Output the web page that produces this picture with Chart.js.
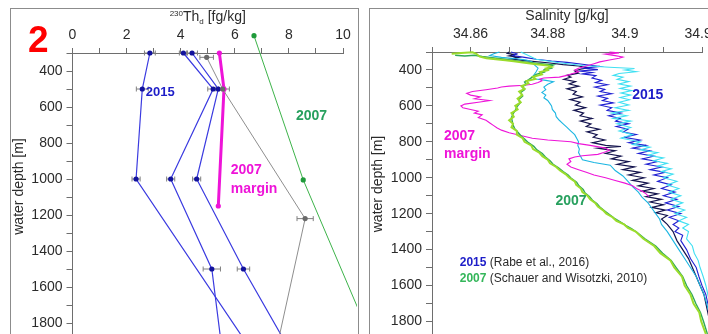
<!DOCTYPE html>
<html>
<head>
<meta charset="utf-8">
<script src="https://cdn.jsdelivr.net/npm/chart.js@4.4.0/dist/chart.umd.min.js"></script>
<style>
  html, body { margin: 0; padding: 0; background: #fff; }
  #wrap { position: relative; width: 708px; height: 334px; overflow: hidden; background: #fff; }
  .frame { position: absolute; border: 1px solid #8c8c8c; box-sizing: border-box; }
  canvas { position: absolute; top: 0; }
</style>
</head>
<body>
<div id="wrap">
  <div class="frame" style="left:10px;top:8px;width:349px;height:360px;"></div>
  <div class="frame" style="left:369px;top:8px;width:360px;height:360px;"></div>
  <canvas id="th" width="362" height="334" style="left:0"></canvas>
  <canvas id="sal" width="346" height="334" style="left:362px"></canvas>
</div>
<script>
const FONT = '"Liberation Sans", Arial, Helvetica, sans-serif';

// ---------- 230Th_d profiles: depth [m], concentration [fg/kg], error [fg/kg] ----------
const thDepthA = [300, 500, 1000, 2000];
const thA      = [2.86, 2.58, 2.35, 6.83];
const thErrA   = [0.2, 0.22, 0.15, 0];

const thDepthB = [300, 500, 1000, 1500, 2000];
const thB      = [4.10, 5.20, 3.63, 5.15, 5.57];
const thErrB   = [0.15, 0.2, 0.15, 0.32, 0];

const thDepthC = [300, 500, 1000, 1500, 2000];
const thC      = [4.42, 5.39, 4.59, 6.32, 8.22];
const thErrC   = [0.2, 0.25, 0.15, 0.23, 0];

const thDepthMargin = [300, 500, 1150];
const thMargin      = [5.43, 5.60, 5.39];

const thDepthGrey = [324, 500, 1220, 2000];
const thGrey      = [4.96, 5.55, 8.60, 7.46];
const thErrGrey   = [0.25, 0.25, 0.3, 0];

const thDepth2007 = [204, 1005, 2000];
const th2007      = [6.71, 8.53, 11.35];

// ---------- Salinity profiles: [depth m, salinity g/kg] ----------
const sal2007Light = [[310,34.8551],[306,34.8575],[302,34.8605],[310,34.8615],[326,34.8624],[335,34.8641],[340,34.8665],[346,34.8690],[352,34.8712],[360,34.8740],[368,34.8770],[375,34.8800],[383,34.8810],[392,34.8795],[402,34.8800],[412,34.8780],[425,34.8785],[438,34.8762],[450,34.8768],[462,34.8745],[475,34.8750],[490,34.8732],[505,34.8740],[520,34.8726],[540,34.8734],[560,34.8722],[580,34.8730],[600,34.8716],[620,34.8722],[640,34.8706],[660,34.8712],[680,34.8700],[700,34.8710],[720,34.8706],[740,34.8720],[760,34.8720],[780,34.8735],[800,34.8740],[820,34.8757],[840,34.8762],[860,34.8778],[880,34.8786],[900,34.8800],[920,34.8806],[940,34.8822],[960,34.8832],[980,34.8846],[1000,34.8856],[1020,34.8870],[1040,34.8874],[1060,34.8886],[1080,34.8890],[1100,34.8903],[1120,34.8910],[1140,34.8923],[1160,34.8930],[1180,34.8943],[1200,34.8952],[1220,34.8968],[1240,34.8978],[1260,34.8998],[1280,34.9008],[1300,34.9028],[1340,34.9048],[1380,34.9076],[1420,34.9092],[1460,34.9118],[1500,34.9128],[1550,34.9148],[1600,34.9155],[1650,34.9170],[1700,34.9178],[1750,34.9193],[1800,34.9198],[1870,34.9210]];

const sal2007 = [[318,34.8560],[322,34.8585],[318,34.8610],[325,34.8630],[330,34.8650],[336,34.8672],[342,34.8695],[348,34.8715],[355,34.8740],[362,34.8770],[368,34.8795],[372,34.8815],[380,34.8805],[390,34.8810],[400,34.8790],[411,34.8792],[425,34.8770],[440,34.8760],[455,34.8750],[467,34.8740],[480,34.8744],[495,34.8734],[510,34.8740],[525,34.8730],[545,34.8735],[565,34.8725],[585,34.8728],[605,34.8720],[625,34.8716],[645,34.8710],[665,34.8706],[685,34.8708],[705,34.8710],[725,34.8714],[745,34.8722],[765,34.8730],[785,34.8740],[805,34.8750],[825,34.8764],[845,34.8772],[865,34.8786],[885,34.8794],[905,34.8806],[925,34.8814],[945,34.8828],[965,34.8840],[985,34.8853],[1005,34.8862],[1025,34.8875],[1045,34.8881],[1065,34.8892],[1085,34.8897],[1105,34.8908],[1125,34.8916],[1145,34.8928],[1165,34.8936],[1185,34.8948],[1205,34.8960],[1225,34.8972],[1245,34.8988],[1265,34.9002],[1285,34.9018],[1305,34.9032],[1340,34.9052],[1380,34.9080],[1420,34.9098],[1460,34.9120],[1500,34.9133],[1550,34.9150],[1600,34.9160],[1650,34.9174],[1700,34.9184],[1750,34.9196],[1800,34.9204],[1870,34.9214]];

const sal2007Margin = [[300,34.8960],[305,34.8985],[312,34.8950],[320,34.8975],[328,34.8995],[335,34.8985],[345,34.8960],[355,34.8935],[365,34.8920],[378,34.8900],[390,34.8880],[400,34.8870],[410,34.8880],[420,34.8865],[430,34.8850],[440,34.8830],[445,34.8790],[450,34.8780],[460,34.8785],[470,34.8775],[480,34.8760],[485,34.8740],[490,34.8700],[495,34.8680],[500,34.8670],[510,34.8640],[520,34.8605],[530,34.8590],[540,34.8600],[550,34.8625],[560,34.8610],[570,34.8650],[580,34.8620],[590,34.8585],[600,34.8575],[610,34.8580],[620,34.8600],[630,34.8620],[640,34.8610],[650,34.8630],[665,34.8620],[680,34.8640],[695,34.8650],[710,34.8660],[722,34.8668],[735,34.8680],[750,34.8700],[765,34.8730],[780,34.8760],[790,34.8800],[800,34.8860],[810,34.8880],[820,34.8910],[835,34.8950],[848,34.8960],[860,34.8945],[870,34.8930],[878,34.8890],[885,34.8870],[895,34.8855],[910,34.8860],[925,34.8850],[940,34.8860],[955,34.8880],[970,34.8900],[985,34.8920],[1000,34.8950],[1015,34.8975],[1030,34.9000],[1045,34.9020],[1060,34.9030],[1075,34.9045],[1090,34.9055],[1105,34.9062]];

const sal2015CyanWest = [[300,34.8675],[310,34.8660],[320,34.8650],[330,34.8680],[338,34.8720],[345,34.8745],[355,34.8760],[370,34.8765],[390,34.8775],[410,34.8770],[425,34.8765],[440,34.8760],[450,34.8770],[458,34.8795],[465,34.8815],[480,34.8800],[495,34.8790],[510,34.8795],[525,34.8785],[540,34.8795],[555,34.8790],[570,34.8800],[585,34.8805],[600,34.8810],[620,34.8812],[640,34.8820],[660,34.8822],[680,34.8830],[700,34.8840],[720,34.8850],[740,34.8860],[760,34.8870],[780,34.8875],[800,34.8880],[820,34.8878],[840,34.8882],[860,34.8880],[880,34.8885],[900,34.8890],[915,34.8920],[930,34.8962],[960,34.8975],[990,34.8995],[1020,34.9008],[1050,34.9020],[1080,34.9035],[1110,34.9045],[1140,34.9060],[1170,34.9070],[1200,34.9080],[1230,34.9090],[1260,34.9095],[1300,34.9110],[1350,34.9125],[1400,34.9140],[1450,34.9155],[1500,34.9170],[1550,34.9185],[1600,34.9195],[1650,34.9205],[1700,34.9212],[1750,34.9218],[1800,34.9223],[1870,34.9228]];

const sal2015CyanEast = [[300,34.8730],[320,34.8750],[340,34.8770],[360,34.8830],[375,34.8890],[385,34.8960],[392,34.9025],[400,34.9000],[410,34.9030],[420,34.8985],[430,34.8970],[440,34.8995],[452,34.8980],[465,34.9010],[478,34.8985],[490,34.9015],[503,34.8988],[515,34.9018],[528,34.8990],[540,34.9015],[553,34.8988],[566,34.9012],[580,34.8985],[595,34.9010],[610,34.8975],[625,34.9010],[640,34.8965],[655,34.9005],[670,34.8970],[685,34.9015],[700,34.8980],[720,34.9015],[740,34.8985],[760,34.9020],[780,34.8990],[800,34.9040],[815,34.9020],[830,34.9065],[845,34.9040],[860,34.9085],[875,34.9060],[890,34.9100],[905,34.9075],[920,34.9110],[935,34.9085],[950,34.9120],[965,34.9095],[980,34.9125],[1000,34.9100],[1020,34.9135],[1040,34.9110],[1060,34.9140],[1080,34.9115],[1100,34.9145],[1120,34.9120],[1140,34.9150],[1160,34.9125],[1180,34.9155],[1200,34.9130],[1220,34.9160],[1240,34.9140],[1260,34.9165],[1280,34.9150],[1300,34.9165],[1340,34.9160],[1380,34.9175],[1420,34.9180],[1460,34.9190],[1500,34.9195],[1550,34.9203],[1600,34.9210],[1650,34.9215],[1700,34.9220],[1750,34.9225],[1800,34.9230],[1870,34.9235]];

const sal2015Blue = [[300,34.8705],[310,34.8720],[320,34.8710],[330,34.8740],[340,34.8770],[350,34.8810],[358,34.8850],[365,34.8880],[372,34.8905],[380,34.8935],[390,34.8895],[398,34.8930],[406,34.8880],[414,34.8915],[422,34.8890],[432,34.8925],[445,34.8915],[458,34.8940],[470,34.8924],[482,34.8955],[495,34.8922],[508,34.8948],[520,34.8936],[532,34.8966],[545,34.8930],[558,34.8955],[570,34.8942],[583,34.8970],[596,34.8936],[610,34.8966],[625,34.8954],[640,34.8990],[655,34.8958],[670,34.8988],[685,34.8976],[700,34.9010],[715,34.8978],[730,34.9008],[745,34.8996],[760,34.9030],[775,34.8998],[790,34.9040],[805,34.9010],[820,34.9055],[835,34.9020],[850,34.9065],[865,34.9035],[880,34.9075],[895,34.9045],[910,34.9085],[925,34.9055],[940,34.9095],[955,34.9065],[970,34.9105],[985,34.9075],[1000,34.9110],[1020,34.9085],[1040,34.9120],[1060,34.9095],[1080,34.9130],[1100,34.9100],[1120,34.9135],[1140,34.9105],[1160,34.9140],[1180,34.9110],[1200,34.9145],[1220,34.9115],[1240,34.9140],[1260,34.9125],[1280,34.9140],[1300,34.9130],[1320,34.9150],[1350,34.9145],[1400,34.9160],[1450,34.9170],[1500,34.9185],[1550,34.9192],[1600,34.9200],[1650,34.9210],[1700,34.9215],[1750,34.9222],[1800,34.9228],[1870,34.9232]];

const sal2015Navy = [[300,34.8700],[308,34.8695],[315,34.8715],[322,34.8700],[330,34.8725],[338,34.8705],[345,34.8730],[352,34.8760],[360,34.8800],[370,34.8840],[378,34.8880],[388,34.8905],[396,34.8885],[405,34.8870],[418,34.8880],[430,34.8850],[440,34.8860],[452,34.8842],[465,34.8872],[478,34.8856],[490,34.8880],[505,34.8850],[520,34.8874],[535,34.8866],[550,34.8890],[565,34.8858],[580,34.8884],[595,34.8872],[610,34.8898],[625,34.8868],[640,34.8893],[655,34.8884],[670,34.8915],[685,34.8885],[700,34.8912],[715,34.8900],[730,34.8934],[745,34.8902],[760,34.8928],[775,34.8918],[790,34.8948],[805,34.8916],[820,34.8950],[826,34.8990],[836,34.8930],[850,34.8975],[865,34.8950],[880,34.8990],[895,34.8965],[910,34.9010],[925,34.8980],[940,34.9025],[955,34.8995],[970,34.9040],[985,34.9010],[1000,34.9050],[1015,34.9020],[1030,34.9060],[1045,34.9035],[1060,34.9075],[1075,34.9045],[1090,34.9085],[1105,34.9055],[1120,34.9095],[1135,34.9065],[1150,34.9100],[1165,34.9070],[1180,34.9105],[1195,34.9080],[1210,34.9110],[1230,34.9095],[1260,34.9110],[1300,34.9125],[1350,34.9135],[1400,34.9150],[1450,34.9165],[1500,34.9175],[1550,34.9185],[1600,34.9195],[1650,34.9205],[1700,34.9210],[1750,34.9215],[1800,34.9220],[1870,34.9225]];

// ---------- colours ----------
const C_BLUE_LINE = '#3b3be0', C_BLUE_PT = '#12129c', C_MAGENTA = '#ee14d8',
      C_GREY = '#8e8e8e', C_GREEN = '#3db34a', C_GREEN_TXT = '#27a05e',
      C_TEXT = '#2b2b2b', C_AXIS = '#6e6e6e';

Chart.defaults.font.family = FONT;
Chart.defaults.color = C_TEXT;

// horizontal error bars, drawn underneath the markers
const errorBars = {
  id: 'errorBars',
  beforeDatasetsDraw(chart) {
    const { ctx, scales: { x, y } } = chart;
    ctx.save();
    ctx.strokeStyle = '#808080';
    ctx.lineWidth = 1;
    chart.data.datasets.forEach(ds => {
      if (!ds.errX) return;
      ds.data.forEach((p, i) => {
        const e = ds.errX[i];
        if (!e) return;
        const yy = y.getPixelForValue(p.y);
        const x0 = x.getPixelForValue(p.x - e), x1 = x.getPixelForValue(p.x + e);
        ctx.beginPath();
        ctx.moveTo(x0, yy); ctx.lineTo(x1, yy);
        ctx.moveTo(x0, yy - 2.5); ctx.lineTo(x0, yy + 2.5);
        ctx.moveTo(x1, yy - 2.5); ctx.lineTo(x1, yy + 2.5);
        ctx.stroke();
      });
    });
    ctx.restore();
  }
};

// text placed in data coordinates, made of coloured runs
const notes = {
  id: 'notes',
  afterDatasetsDraw(chart, args, opts) {
    const { ctx, scales: { x, y } } = chart;
    ctx.save();
    ctx.textBaseline = 'middle';
    ctx.textAlign = 'left';
    (opts.items || []).forEach(it => {
      let px = x.getPixelForValue(it.x);
      const py = y.getPixelForValue(it.y);
      it.runs.forEach(r => {
        ctx.font = r.font;
        ctx.fillStyle = r.color;
        ctx.fillText(r.text, px, py);
        px += ctx.measureText(r.text).width;
      });
    });
    ctx.restore();
  }
};

// axis titles (with super/subscripts) and panel number
const titles = {
  id: 'titles',
  afterDraw(chart, args, opts) {
    const { ctx, chartArea } = chart;
    ctx.save();
    ctx.fillStyle = C_TEXT;
    ctx.textBaseline = 'alphabetic';
    const parts = opts.top;
    let total = 0;
    parts.forEach(p => { ctx.font = p.font; total += ctx.measureText(p.text).width; });
    let px = (chartArea.left + chartArea.right) / 2 - total / 2;
    parts.forEach(p => {
      ctx.font = p.font;
      ctx.fillText(p.text, px, opts.topY + (p.dy || 0));
      px += ctx.measureText(p.text).width;
    });
    ctx.save();
    ctx.translate(opts.sideX, (chartArea.top + chartArea.bottom) / 2 + opts.sideDy);
    ctx.rotate(-Math.PI / 2);
    ctx.font = '14px ' + FONT;
    ctx.textAlign = 'center';
    ctx.textBaseline = 'middle';
    ctx.fillText(opts.side, 0, 0);
    ctx.restore();
    if (opts.badge) {
      ctx.font = 'bold 37px ' + FONT;
      ctx.fillStyle = '#ff0000';
      ctx.textAlign = 'left';
      ctx.fillText(opts.badge, 28, 52);
    }
    ctx.restore();
  }
};

const pts = (vals, depths) => vals.map((v, i) => ({ x: v, y: depths[i] }));
const prof = pairs => pairs.map(p => ({ x: p[1], y: p[0] }));

function thSeries(vals, depths, color, width, ptColor, err) {
  return {
    data: pts(vals, depths), showLine: true, borderColor: color, borderWidth: width,
    pointRadius: 2.6, pointBackgroundColor: ptColor, pointBorderWidth: 0,
    errX: err, clip: { left: 2, top: 25, right: 14, bottom: 2 }
  };
}

function salSeries(pairs, color, width) {
  return {
    data: prof(pairs), showLine: true, borderColor: color, borderWidth: width,
    pointRadius: 0, tension: 0, clip: { left: 2, top: 2, right: 8, bottom: 2 }
  };
}

function axisX(min, max, step, labelFn, fitH) {
  return {
    type: 'linear', position: 'top', min, max,
    ticks: { stepSize: step, autoSkip: false, maxRotation: 0, includeBounds: false, padding: 4,
             color: C_TEXT, font: { size: 14 }, callback: labelFn },
    grid: { drawOnChartArea: false, tickLength: 5, color: C_AXIS },
    border: { color: C_AXIS },
    afterFit(s) { s.height = fitH; s.paddingLeft = 0; s.paddingRight = 0; }
  };
}

function axisY(max, fitW) {
  return {
    type: 'linear', reverse: true, min: 300, max,
    ticks: { stepSize: 100, autoSkip: false, includeBounds: false, padding: 4,
             color: C_TEXT, font: { size: 14 },
             callback: v => (v % 200 === 0 && v >= 400) ? String(v) : '' },
    grid: { drawOnChartArea: false, tickLength: 6, color: C_AXIS },
    border: { color: C_AXIS },
    afterFit(s) { s.width = fitW; s.paddingTop = 0; s.paddingBottom = 0; }
  };
}

const g2007 = thSeries(th2007, thDepth2007, C_GREEN, 1, '#1f9a3a', null);
// wide transparent rim keeps the shallow 2007 marker visible above the axis
g2007.pointBorderWidth = [20, 0, 0];
g2007.pointBorderColor = 'rgba(0,0,0,0)';

new Chart(document.getElementById('th'), {
  type: 'scatter',
  data: { datasets: [
    thSeries(thGrey, thDepthGrey, C_GREY, 1, '#6a6a6a', thErrGrey),
    g2007,
    thSeries(thA, thDepthA, C_BLUE_LINE, 1.2, C_BLUE_PT, thErrA),
    thSeries(thB, thDepthB, C_BLUE_LINE, 1.2, C_BLUE_PT, thErrB),
    thSeries(thC, thDepthC, C_BLUE_LINE, 1.2, C_BLUE_PT, thErrC),
    thSeries(thMargin, thDepthMargin, C_MAGENTA, 3, C_MAGENTA, null)
  ]},
  options: {
    responsive: false, animation: false, events: [],
    layout: { autoPadding: false, padding: { left: 10, top: 8, right: 19, bottom: 0 } },
    plugins: {
      legend: { display: false }, tooltip: { enabled: false },
      notes: { items: [
        { x: 2.71, y: 519, runs: [{ text: '2015', font: 'bold 13px ' + FONT, color: '#1d1dc8' }] },
        { x: 8.26, y: 650, runs: [{ text: '2007', font: 'bold 14px ' + FONT, color: C_GREEN_TXT }] },
        { x: 5.85, y: 950, runs: [{ text: '2007', font: 'bold 14px ' + FONT, color: C_MAGENTA }] },
        { x: 5.85, y: 1056, runs: [{ text: 'margin', font: 'bold 14px ' + FONT, color: C_MAGENTA }] }
      ]},
      titles: {
        top: [
          { text: '230', font: '8px ' + FONT, dy: -5 },
          { text: 'Th', font: '14px ' + FONT },
          { text: 'd', font: '8px ' + FONT, dy: 3 },
          { text: ' [fg/kg]', font: '14px ' + FONT }
        ],
        topY: 21, side: 'water depth [m]', sideX: 19, sideDy: -7, badge: '2'
      }
    },
    scales: {
      x: axisX(0, 10, 1, v => (v % 2 === 0) ? String(v) : '', 45),
      y: axisY(1861, 62.5)
    }
  },
  plugins: [errorBars, notes, titles]
});

new Chart(document.getElementById('sal'), {
  type: 'scatter',
  data: { datasets: [
    salSeries(sal2007Light, '#9bdc2c', 2),
    salSeries(sal2007, '#2fa85a', 1.4),
    salSeries(sal2007Margin, C_MAGENTA, 1.1),
    salSeries(sal2015CyanWest, '#1cb6e2', 1.1),
    salSeries(sal2015CyanEast, '#3fe0f2', 1.1),
    salSeries(sal2015Blue, '#2020d2', 1.1),
    salSeries(sal2015Navy, '#14144e', 1.2)
  ]},
  options: {
    responsive: false, animation: false, events: [],
    layout: { autoPadding: false, padding: { left: 7, top: 8, right: 6, bottom: 0 } },
    plugins: {
      legend: { display: false }, tooltip: { enabled: false },
      notes: { items: [
        { x: 34.9019, y: 539, runs: [{ text: '2015', font: 'bold 14px ' + FONT, color: '#1d1dc8' }] },
        { x: 34.8531, y: 768, runs: [{ text: '2007', font: 'bold 14px ' + FONT, color: C_MAGENTA }] },
        { x: 34.8531, y: 871, runs: [{ text: 'margin', font: 'bold 14px ' + FONT, color: C_MAGENTA }] },
        { x: 34.8820, y: 1130, runs: [{ text: '2007', font: 'bold 14px ' + FONT, color: C_GREEN_TXT }] },
        { x: 34.8572, y: 1475, runs: [
          { text: '2015', font: 'bold 12px ' + FONT, color: '#1d1dc8' },
          { text: ' (Rabe et al., 2016)', font: '12px ' + FONT, color: C_TEXT } ] },
        { x: 34.8572, y: 1564, runs: [
          { text: '2007', font: 'bold 12px ' + FONT, color: '#34b65a' },
          { text: ' (Schauer and Wisotzki, 2010)', font: '12px ' + FONT, color: C_TEXT } ] }
      ]},
      titles: {
        top: [{ text: 'Salinity [g/kg]', font: '14px ' + FONT }],
        topY: 20, side: 'water depth [m]', sideX: 16, sideDy: -9
      }
    },
    scales: {
      x: axisX(34.85, 34.92, 0.01, v => (Math.round(v * 100) % 2 === 0) ? String(Math.round(v * 100) / 100) : '', 44),
      y: axisY(1870, 63)
    }
  },
  plugins: [notes, titles]
});
</script>
</body>
</html>
